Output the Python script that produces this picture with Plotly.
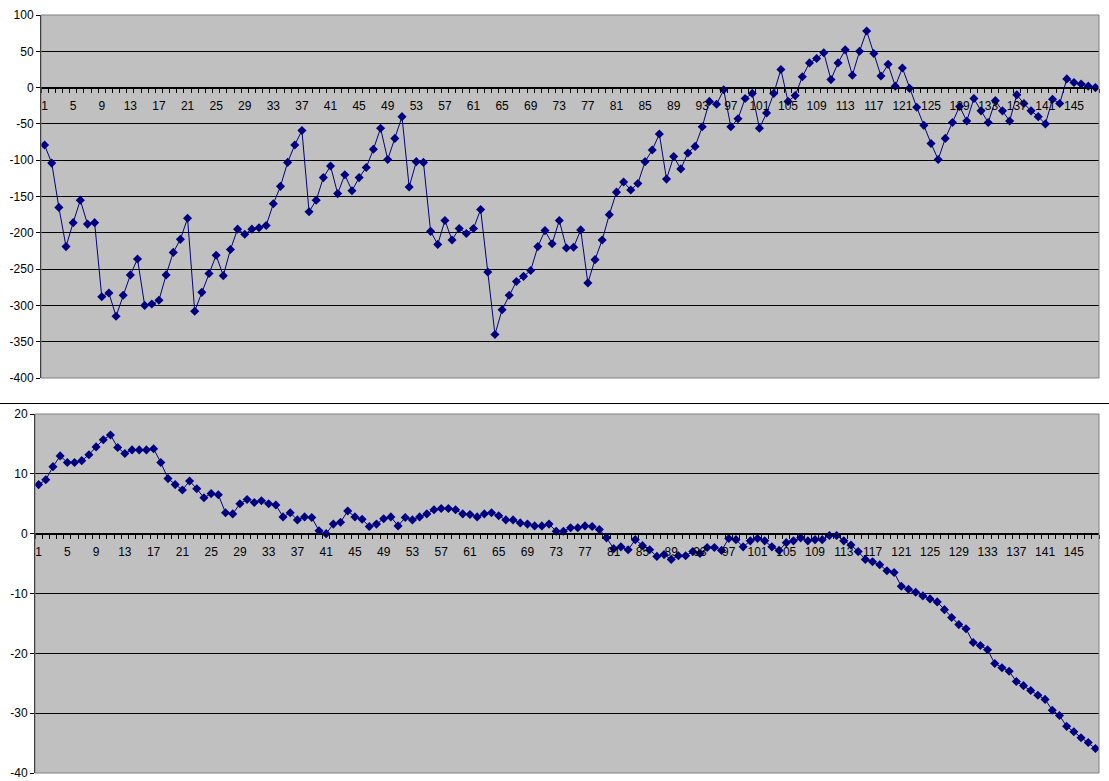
import plotly.graph_objects as go

categories = list(range(1, 149))

top_values = [
    -79, -104, -165, -219, -186, -155, -188, -186, -288, -283,
    -315, -286, -258, -236, -300, -298, -293, -258, -227, -209,
    -180, -308, -282, -256, -231, -259, -223, -195, -202, -195,
    -193, -190, -160, -136, -103, -79, -59, -171, -155, -124,
    -108, -146, -120, -142, -124, -110, -85, -56, -99, -70,
    -40, -137, -102, -103, -198, -216, -183, -210, -194, -201,
    -194, -168, -254, -340, -306, -286, -267, -260, -252, -219,
    -197, -215, -183, -221, -220, -196, -269, -237, -210, -175,
    -144, -130, -141, -132, -102, -86, -64, -126, -95, -112,
    -90, -81, -54, -19, -23, -3, -54, -43, -15, -8,
    -56, -35, -8, 25, -19, -11, 15, 34, 40, 48,
    11, 34, 52, 17, 50, 78, 47, 16, 32, 2,
    27, -1, -27, -52, -77, -99, -70, -48, -26, -46,
    -15, -32, -48, -18, -32, -46, -10, -22, -32, -40,
    -50, -16, -22, 12, 7, 5, 2, 0,
]

bottom_values = [
    8.2, 9.0, 11.2, 13.0, 11.9, 11.9, 12.2, 13.2, 14.5, 15.7,
    16.5, 14.4, 13.4, 14.0, 14.0, 14.0, 14.2, 11.9, 9.2, 8.2,
    7.3, 8.8, 7.5, 6.0, 6.7, 6.5, 3.5, 3.3, 5.0, 5.7,
    5.2, 5.5, 5.0, 4.8, 2.8, 3.5, 2.3, 2.8, 2.7, 0.5,
    0.0, 1.6, 1.9, 3.8, 2.8, 2.4, 1.2, 1.6, 2.5, 2.8,
    1.3, 2.7, 2.3, 2.8, 3.3, 4.0, 4.2, 4.2, 4.0, 3.3,
    3.2, 2.8, 3.3, 3.5, 3.0, 2.3, 2.3, 1.8, 1.6, 1.3,
    1.3, 1.6, 0.4, 0.4, 1.0, 1.0, 1.3, 1.2, 0.7, -0.7,
    -2.5, -2.2, -2.7, -1.0, -2.0, -2.7, -3.8, -3.5, -4.3, -3.7,
    -3.7, -3.0, -3.3, -2.3, -2.3, -2.8, -0.8, -1.0, -2.2, -1.2,
    -0.8, -1.2, -2.2, -2.8, -1.5, -1.2, -0.7, -1.2, -1.0, -1.0,
    -0.3, -0.3, -1.2, -1.9, -3.0, -4.3, -4.7, -5.2, -6.2, -6.5,
    -8.8, -9.3, -9.8, -10.4, -10.9, -11.4, -12.7, -14.0, -15.2, -15.9,
    -18.2, -18.7, -19.4, -21.7, -22.4, -23.0, -24.7, -25.4, -26.2, -27.0,
    -27.7, -29.5, -30.4, -32.2, -33.1, -34.1, -34.9, -35.9,
]

x_tick_labels = [str(v) for v in range(1, 149, 4)]
top_y_ticks = [100, 50, 0, -50, -100, -150, -200, -250, -300, -350, -400]
bottom_y_ticks = [20, 10, 0, -10, -20, -30, -40]

W, H = 1109, 781
NAVY = "#000080"
FONT = "Liberation Sans, Arial, sans-serif"

# plot-area pixel boxes (left, top, right, bottom)
top_box = (41, 15, 1099, 378)
bot_box = (35, 414, 1099, 773)


def xdom(b):
    return [b[0] / W, b[2] / W]


def ydom(b):
    return [1 - b[3] / H, 1 - b[1] / H]


top_range = [-400, 100]
bot_range = [-40, 20]


def zero_pos(b, r):
    d = ydom(b)
    return d[0] + (0 - r[0]) / (r[1] - r[0]) * (d[1] - d[0])


fig = go.Figure()
for vals, xa, ya in [(top_values, "x", "y"), (bottom_values, "x2", "y2")]:
    fig.add_trace(go.Scatter(
        x=categories, y=vals, xaxis=xa, yaxis=ya, mode="lines+markers",
        line=dict(color=NAVY, width=1),
        marker=dict(symbol="diamond", size=7, color=NAVY),
        showlegend=False, hoverinfo="skip",
    ))


def xaxis_cfg(b, r):
    return dict(
        domain=xdom(b), range=[0.5, 148.5], anchor="free",
        position=zero_pos(b, r),
        tickvals=[int(t) for t in x_tick_labels], ticktext=x_tick_labels,
        ticks="", ticklabelstandoff=7,
        showline=True, linecolor="black", linewidth=1,
        showgrid=False, zeroline=False,
        minor=dict(ticks="outside", tick0=0.5, dtick=1, ticklen=4,
                   tickcolor="black", tickwidth=1, showgrid=False),
        tickfont=dict(family=FONT, size=12, color="black"),
        automargin=False, fixedrange=True,
    )


def yaxis_cfg(b, r, ticks, xname):
    return dict(
        domain=ydom(b), range=r, anchor=xname,
        tickvals=ticks, ticktext=[str(t) for t in ticks],
        ticks="outside", ticklen=4, tickcolor="black",
        showline=True, linecolor="black", linewidth=1,
        showgrid=True, gridcolor="black", gridwidth=1, zeroline=False,
        tickfont=dict(family=FONT, size=12, color="black"),
        automargin=False, fixedrange=True,
    )


fig.update_layout(
    width=W, height=H,
    margin=dict(l=0, r=0, t=0, b=0),
    paper_bgcolor="white", plot_bgcolor="#c0c0c0",
    xaxis=xaxis_cfg(top_box, top_range),
    yaxis=yaxis_cfg(top_box, top_range, top_y_ticks, "x"),
    xaxis2=xaxis_cfg(bot_box, bot_range),
    yaxis2=yaxis_cfg(bot_box, bot_range, bottom_y_ticks, "x2"),
    shapes=[
        dict(type="rect", xref="x domain", yref="y domain", x0=0, x1=1, y0=0, y1=1,
             line=dict(color="#808080", width=1), layer="above"),
        dict(type="rect", xref="x2 domain", yref="y2 domain", x0=0, x1=1, y0=0, y1=1,
             line=dict(color="#808080", width=1), layer="above"),
        dict(type="line", xref="paper", yref="paper", x0=0, x1=1,
             y0=1 - 403.5 / H, y1=1 - 403.5 / H, line=dict(color="black", width=1)),
    ],
)

fig.write_html(
    "out.html",
    config={"displayModeBar": False},
    post_script="document.body.style.margin='0';document.body.style.overflow='hidden';",
)
